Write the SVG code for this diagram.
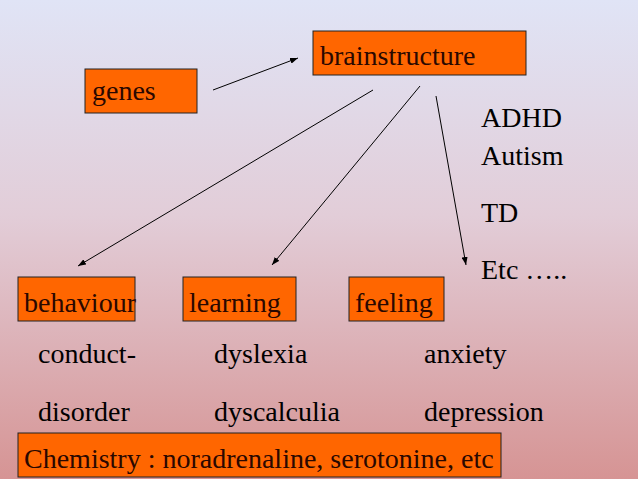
<svg xmlns="http://www.w3.org/2000/svg" width="638" height="479" viewBox="0 0 638 479">
<defs>
<linearGradient id="bg" x1="0" y1="0" x2="0" y2="1">
<stop offset="0" stop-color="#e0e4f6"/>
<stop offset="0.45" stop-color="#e2cdd8"/>
<stop offset="1" stop-color="#d69494"/>
</linearGradient>
<marker id="ah" markerWidth="8" markerHeight="6" refX="8" refY="3" orient="auto" markerUnits="userSpaceOnUse">
<path d="M0,0 L8,3 L0,6 Z" fill="#000"/>
</marker>
</defs>
<rect width="638" height="479" fill="url(#bg)"/>
<g id="connectors" stroke="#000" stroke-width="1" fill="none" marker-end="url(#ah)">
<line x1="213" y1="90" x2="298" y2="58"/>
<line x1="373" y1="90" x2="78" y2="266"/>
<line x1="420" y1="86" x2="272" y2="265"/>
<line x1="436" y1="96" x2="466" y2="265"/>
</g>
<g id="genes"><rect fill="#ff6600" stroke="#222" x="85" y="69" width="112" height="44"/><text font-family="Liberation Serif" font-size="28" fill="#2a0800" x="92" y="100">genes</text></g>
<g id="brainstructure"><rect fill="#ff6600" stroke="#222" x="313" y="31" width="213" height="44"/><text font-family="Liberation Serif" font-size="28" fill="#2a0800" x="320" y="65">brainstructure</text></g>
<g id="disorders">
<text font-family="Liberation Serif" font-size="28" x="481" y="127">ADHD</text>
<text font-family="Liberation Serif" font-size="28" x="481" y="165">Autism</text>
<text font-family="Liberation Serif" font-size="28" x="481" y="222">TD</text>
<text font-family="Liberation Serif" font-size="28" x="481" y="279">Etc …..</text>
</g>
<g id="behaviour"><rect fill="#ff6600" stroke="#222" x="18" y="277" width="117" height="44"/><text font-family="Liberation Serif" font-size="28" fill="#2a0800" x="24" y="312">behaviour</text></g>
<g id="learning"><rect fill="#ff6600" stroke="#222" x="183" y="277" width="113" height="44"/><text font-family="Liberation Serif" font-size="28" fill="#2a0800" x="189" y="312">learning</text></g>
<g id="feeling"><rect fill="#ff6600" stroke="#222" x="349" y="277" width="95" height="44"/><text font-family="Liberation Serif" font-size="28" fill="#2a0800" x="355" y="312">feeling</text></g>
<text font-family="Liberation Serif" font-size="28" x="38" y="363">conduct-</text>
<text font-family="Liberation Serif" font-size="28" x="38" y="421">disorder</text>
<text font-family="Liberation Serif" font-size="28" x="214" y="363">dyslexia</text>
<text font-family="Liberation Serif" font-size="28" x="214" y="421">dyscalculia</text>
<text font-family="Liberation Serif" font-size="28" x="424" y="363">anxiety</text>
<text font-family="Liberation Serif" font-size="28" x="424" y="421">depression</text>
<g id="chemistry"><rect fill="#ff6600" stroke="#222" x="18" y="433" width="483" height="44"/><text font-family="Liberation Serif" font-size="28" fill="#2a0800" x="24" y="468">Chemistry : noradrenaline, serotonine, etc</text></g>
</svg>
